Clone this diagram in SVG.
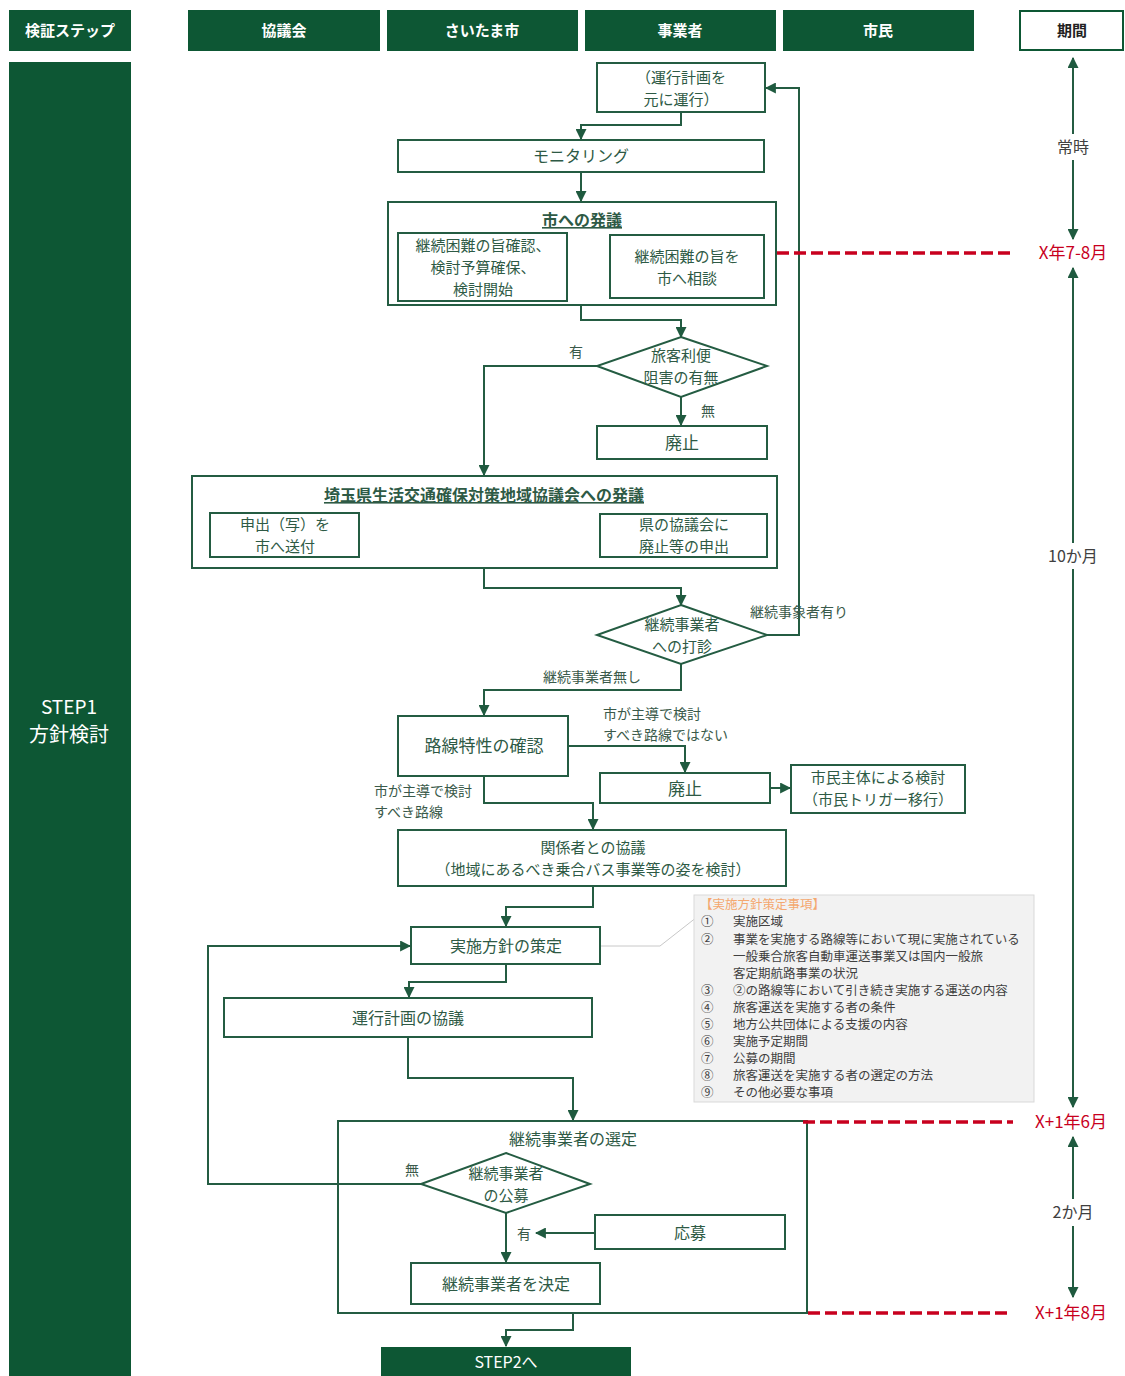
<svg xmlns="http://www.w3.org/2000/svg" width="1125" height="1376" viewBox="0 0 1125 1376">
<style>
text{font-family:"Noto Sans CJK JP","Noto Sans",sans-serif;fill:#2e5a45;font-size:16px}
.c{text-anchor:middle}
.m{font-size:15px}
.hd{fill:#0d5734}
.ht{fill:#fff;font-weight:bold;font-size:15px;text-anchor:middle}
.box{fill:#fff;stroke:#245c42;stroke-width:2}
.ln{fill:none;stroke:#245c42;stroke-width:2}
.arr{marker-end:url(#ah)}
.lbl{font-size:14px;fill:#3a5a4a}
.red{fill:none;stroke:#c8001e;stroke-width:3.5;stroke-dasharray:12 5}
.rt{fill:#c8001e;font-size:17px;text-anchor:middle}
.pt{font-size:16px;text-anchor:middle;fill:#404040}
.nt{font-size:12.5px;fill:#404040}
.u{text-decoration:underline;font-weight:bold}
</style>
<defs>
<marker id="ah" viewBox="0 0 10 10" refX="9" refY="5" markerWidth="11" markerHeight="11" markerUnits="userSpaceOnUse" orient="auto"><path d="M0,0 L10,5 L0,10 z" fill="#1f5a3f"/></marker>
</defs>
<rect width="1125" height="1376" fill="#fff"/>

<g id="headers">
<rect class="hd" x="9" y="10" width="122" height="41"/><text class="ht" x="70" y="36">検証ステップ</text>
<rect class="hd" x="188" y="10" width="192" height="41"/><text class="ht" x="284" y="36">協議会</text>
<rect class="hd" x="387" y="10" width="191" height="41"/><text class="ht" x="482" y="36">さいたま市</text>
<rect class="hd" x="585" y="10" width="191" height="41"/><text class="ht" x="680" y="36">事業者</text>
<rect class="hd" x="783" y="10" width="191" height="41"/><text class="ht" x="878" y="36">市民</text>
<rect x="1020" y="11" width="103" height="39" fill="#fff" stroke="#0d5734" stroke-width="2"/><text class="ht" x="1072" y="36" style="fill:#222">期間</text>
</g>

<g id="step1">
<rect class="hd" x="9" y="62" width="122" height="1314"/>
<text class="c" x="69" y="714" style="fill:#fff;font-size:19px">STEP1</text>
<text class="c" x="69" y="742" style="fill:#fff;font-size:20px">方針検討</text>
</g>

<g id="connectors">
<path class="ln arr" d="M681,112 V125 H581 V139"/>
<path class="ln arr" d="M581,172 V201"/>
<path class="ln arr" d="M610,267 H568"/>
<path class="ln arr" d="M581,305 V320 H681 V337"/>
<path class="ln arr" d="M597,366 H484 V475"/>
<path class="ln arr" d="M681,397 V425"/>
<path class="ln arr" d="M600,535 H360"/>
<path class="ln arr" d="M484,568 V588 H681 V605"/>
<path class="ln arr" d="M767,635 H799 V88 H766"/>
<path class="ln arr" d="M681,664 V690 H484 V715"/>
<path class="ln arr" d="M568,746 H685 V772"/>
<path class="ln arr" d="M770,788 H790"/>
<path class="ln arr" d="M484,776 V803 H593 V829"/>
<path class="ln arr" d="M593,886 V907 H506 V926"/>
<path class="ln arr" d="M506,964 V982 H409 V997"/>
<path class="ln arr" d="M408,1037 V1078 H573 V1120"/>
<path class="ln arr" d="M421,1184 H208 V946 H410"/>
<path class="ln arr" d="M506,1213 V1262"/>
<path class="ln arr" d="M595,1233 H536"/>
<path class="ln arr" d="M573,1313 V1330 H506 V1346"/>
<path d="M601,946 H660 L697,917" fill="none" stroke="#c8c8c8" stroke-width="1"/>
</g>

<g id="n-run">
<rect class="box" x="597" y="63" width="168" height="49"/>
<text class="c m" x="681" y="83">（運行計画を</text>
<text class="c m" x="681" y="105">元に運行）</text>
</g>
<g id="n-monitor">
<rect class="box" x="398" y="140" width="366" height="32"/>
<text class="c" x="581" y="162">モニタリング</text>
</g>
<g id="n-proposal-city">
<rect class="box" x="388" y="202" width="388" height="103"/>
<text class="c u" x="582" y="226">市への発議</text>
</g>
<g id="n-confirm">
<rect class="box" x="398" y="233" width="169" height="68"/>
<text class="c m" x="483" y="251">継続困難の旨確認、</text>
<text class="c m" x="483" y="273">検討予算確保、</text>
<text class="c m" x="483" y="295">検討開始</text>
</g>
<g id="n-consult">
<rect class="box" x="610" y="235" width="154" height="63"/>
<text class="c m" x="687" y="262">継続困難の旨を</text>
<text class="c m" x="687" y="284">市へ相談</text>
</g>
<g id="n-d1">
<polygon class="box" points="681,337 767,366 681,397 597,366"/>
<text class="c m" x="681" y="361">旅客利便</text>
<text class="c m" x="681" y="383">阻害の有無</text>
<text class="lbl" x="569" y="357">有</text>
<text class="lbl" x="701" y="416">無</text>
</g>
<g id="n-abolish1">
<rect class="box" x="597" y="426" width="170" height="33"/>
<text class="c" x="682" y="449" style="font-size:17px">廃止</text>
</g>
<g id="n-pref">
<rect class="box" x="192" y="476" width="585" height="92"/>
<text class="c u" x="484" y="501">埼玉県生活交通確保対策地域協議会への発議</text>
</g>
<g id="n-send">
<rect class="box" x="210" y="513" width="149" height="44"/>
<text class="c m" x="285" y="530">申出（写）を</text>
<text class="c m" x="285" y="552">市へ送付</text>
</g>
<g id="n-apply">
<rect class="box" x="600" y="514" width="167" height="43"/>
<text class="c m" x="684" y="530">県の協議会に</text>
<text class="c m" x="684" y="552">廃止等の申出</text>
</g>
<g id="n-d2">
<polygon class="box" points="681,605 767,635 681,664 597,635"/>
<text class="c m" x="682" y="630">継続事業者</text>
<text class="c m" x="682" y="652">への打診</text>
<text class="lbl" x="750" y="617">継続事象者有り</text>
<text class="lbl" x="543" y="682">継続事業者無し</text>
</g>
<g id="n-route">
<rect class="box" x="398" y="716" width="170" height="60"/>
<text class="c" x="484" y="752" style="font-size:17px">路線特性の確認</text>
<text class="lbl" x="603" y="719">市が主導で検討</text>
<text class="lbl" x="603" y="740">すべき路線ではない</text>
<text class="lbl" x="374" y="796">市が主導で検討</text>
<text class="lbl" x="374" y="817">すべき路線</text>
</g>
<g id="n-abolish2">
<rect class="box" x="600" y="773" width="170" height="30"/>
<text class="c" x="685" y="795" style="font-size:17px">廃止</text>
</g>
<g id="n-citizen">
<rect class="box" x="791" y="765" width="174" height="48"/>
<text class="c m" x="878" y="783">市民主体による検討</text>
<text class="c m" x="878" y="805">（市民トリガー移行）</text>
</g>
<g id="n-stake">
<rect class="box" x="398" y="830" width="388" height="56"/>
<text class="c m" x="593" y="853">関係者との協議</text>
<text class="c m" x="593" y="875">（地域にあるべき乗合バス事業等の姿を検討）</text>
</g>
<g id="n-policy">
<rect class="box" x="411" y="927" width="189" height="37"/>
<text class="c" x="506" y="952">実施方針の策定</text>
</g>
<g id="n-note">
<rect x="694" y="895" width="340" height="207" fill="#f2f2f2" stroke="#d9d9d9" stroke-width="1"/>
<text class="nt" x="700" y="909" style="fill:#f4a870">【実施方針策定事項】</text>
<text class="nt" x="701" y="926">①</text><text class="nt" x="733" y="926">実施区域</text>
<text class="nt" x="701" y="944">②</text><text class="nt" x="733" y="944">事業を実施する路線等において現に実施されている</text>
<text class="nt" x="733" y="961">一般乗合旅客自動車運送事業又は国内一般旅</text>
<text class="nt" x="733" y="978">客定期航路事業の状況</text>
<text class="nt" x="701" y="995">③</text><text class="nt" x="733" y="995">②の路線等において引き続き実施する運送の内容</text>
<text class="nt" x="701" y="1012">④</text><text class="nt" x="733" y="1012">旅客運送を実施する者の条件</text>
<text class="nt" x="701" y="1029">⑤</text><text class="nt" x="733" y="1029">地方公共団体による支援の内容</text>
<text class="nt" x="701" y="1046">⑥</text><text class="nt" x="733" y="1046">実施予定期間</text>
<text class="nt" x="701" y="1063">⑦</text><text class="nt" x="733" y="1063">公募の期間</text>
<text class="nt" x="701" y="1080">⑧</text><text class="nt" x="733" y="1080">旅客運送を実施する者の選定の方法</text>
<text class="nt" x="701" y="1097">⑨</text><text class="nt" x="733" y="1097">その他必要な事項</text>
</g>
<g id="n-plan">
<rect class="box" x="224" y="998" width="368" height="39"/>
<text class="c" x="408" y="1024">運行計画の協議</text>
</g>
<g id="n-select">
<rect class="box" x="338" y="1121" width="469" height="192" style="fill:none"/>
<text class="c" x="573" y="1145">継続事業者の選定</text>
</g>
<g id="n-d3">
<polygon class="box" points="506,1153 590,1184 506,1213 421,1184"/>
<text class="c m" x="506" y="1179">継続事業者</text>
<text class="c m" x="506" y="1201">の公募</text>
<text class="lbl" x="405" y="1175">無</text>
<text class="lbl" x="517" y="1239">有</text>
</g>
<g id="n-apply2">
<rect class="box" x="595" y="1215" width="190" height="34"/>
<text class="c" x="690" y="1239">応募</text>
</g>
<g id="n-decide">
<rect class="box" x="411" y="1263" width="189" height="41"/>
<text class="c" x="506" y="1290">継続事業者を決定</text>
</g>
<g id="n-step2">
<rect class="hd" x="381" y="1347" width="250" height="29"/>
<text class="c" x="506" y="1368" style="fill:#fff">STEP2へ</text>
</g>

<g id="periods">
<path class="ln arr" d="M1073,134 V58"/>
<path class="ln arr" d="M1073,160 V239"/>
<text class="pt" x="1073" y="153">常時</text>
<path class="red" d="M777,253 H1014"/>
<text class="rt" x="1073" y="259">X年7-8月</text>
<path class="ln arr" d="M1073,543 V268"/>
<path class="ln arr" d="M1073,569 V1107"/>
<text class="pt" x="1073" y="562">10か月</text>
<path class="red" d="M803,1122 H1013"/>
<text class="rt" x="1071" y="1128">X+1年6月</text>
<path class="ln arr" d="M1073,1199 V1137"/>
<path class="ln arr" d="M1073,1226 V1297"/>
<text class="pt" x="1073" y="1218">2か月</text>
<path class="red" d="M808,1313 H1010"/>
<text class="rt" x="1071" y="1319">X+1年8月</text>
</g>
</svg>
